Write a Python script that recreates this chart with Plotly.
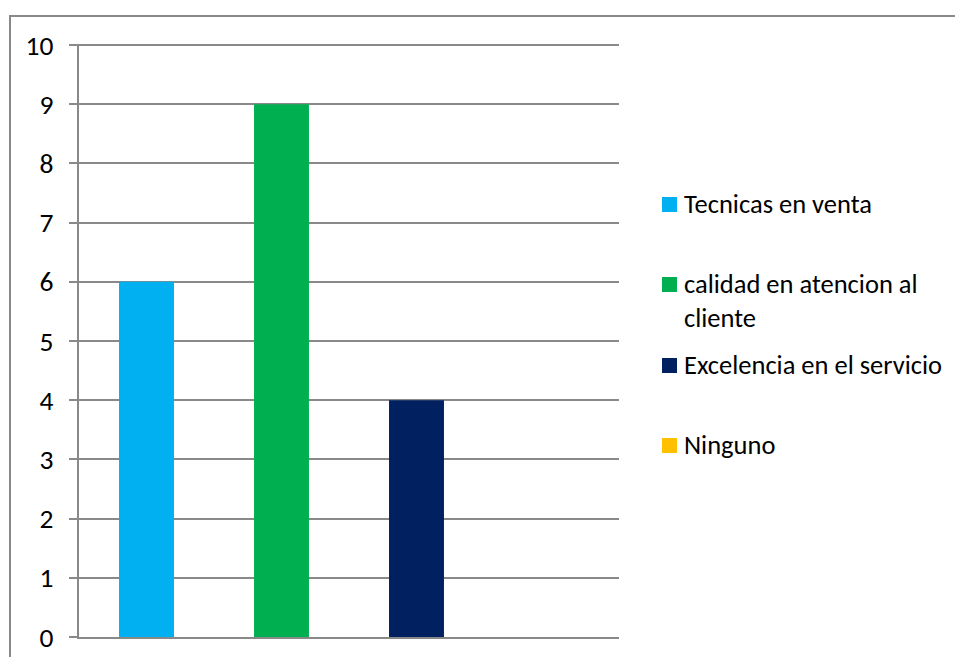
import plotly.graph_objects as go

# Chart data
categories = ["Tecnicas en venta", "calidad en atencion al cliente",
              "Excelencia en el servicio", "Ninguno"]
legend_labels = ["Tecnicas en venta", "calidad en atencion al<br>cliente",
                 "Excelencia en el servicio", "Ninguno"]
values = [6, 9, 4, 0]
colors = ["#00B0F0", "#00B050", "#002060", "#FFC000"]
y_ticks = list(range(0, 11))

W, H = 955, 657
ML, MR, MT, MB = 79, 336, 44, 20
PW, PH = W - ML - MR, H - MT - MB
FONT = "Carlito, Lato, sans-serif"
GRID = "#898989"
Y_MAX = 10.017


def px_x(px):
    return (px - ML) / PW


def px_y(py):
    return (H - MB - py) / PH


fig = go.Figure()
for cat, val, col in zip(categories, values, colors):
    fig.add_trace(go.Bar(x=[cat], y=[val], marker=dict(color=col, line=dict(width=0)),
                         width=0.407, name=cat, showlegend=False))

# Legend drawn beside the plot area: coloured squares with labels
legend_rows = [204.5, 284.5, 365.5, 445.5]
shapes = []
annotations = []
for lab, col, yc in zip(legend_labels, colors, legend_rows):
    shapes.append(dict(type="rect", xref="paper", yref="paper",
                       x0=px_x(662), x1=px_x(677), y0=px_y(yc + 7.5), y1=px_y(yc - 7.5),
                       fillcolor=col, line=dict(width=0)))
    annotations.append(dict(xref="paper", yref="paper", x=px_x(682), y=px_y(yc - 19),
                            xanchor="left", yanchor="top", align="left",
                            text=lab, showarrow=False,
                            font=dict(family=FONT, size=26.5, color="#000000")))

# Outer frame of the chart
shapes.append(dict(type="rect", xref="paper", yref="paper",
                   x0=px_x(10), x1=px_x(W + 30), y0=px_y(H + 30), y1=px_y(16),
                   line=dict(color=GRID, width=2), fillcolor="rgba(0,0,0,0)", layer="below"))

fig.update_layout(
    width=W, height=H,
    autosize=False,
    margin=dict(l=ML, r=MR, t=MT, b=MB, pad=0, autoexpand=False),
    paper_bgcolor="white", plot_bgcolor="white",
    barmode="overlay",
    showlegend=False,
    shapes=shapes,
    annotations=annotations,
    font=dict(family=FONT, size=26, color="#000000"),
    xaxis=dict(range=[-0.5, 3.5], showticklabels=False, showgrid=False, zeroline=False,
               showline=True, linecolor=GRID, linewidth=2, ticks="", automargin=False),
    yaxis=dict(range=[0, Y_MAX], tickvals=y_ticks, showgrid=True, gridcolor=GRID, gridwidth=2,
               zeroline=False, showline=True, linecolor=GRID, linewidth=2,
               ticks="outside", ticklen=8, tickwidth=2, tickcolor=GRID,
               ticklabelstandoff=10, automargin=False,
               tickfont=dict(family=FONT, size=27.5, color="#000000")),
)

fig.write_html("out.html")
